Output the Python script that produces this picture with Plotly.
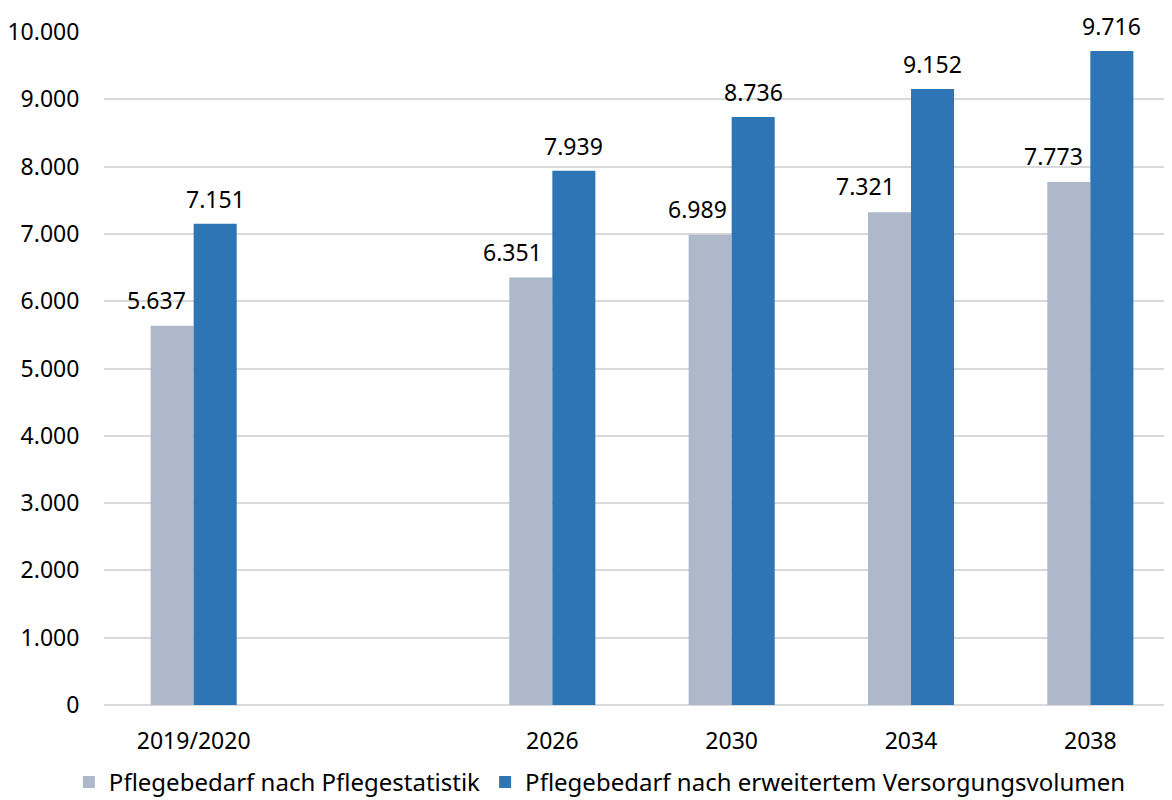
import plotly.graph_objects as go

categories = ["2019/2020", " ", "2026", "2030", "2034", "2038"]
pflegestatistik = [5637, None, 6351, 6989, 7321, 7773]
versorgungsvolumen = [7151, None, 7939, 8736, 9152, 9716]
series_names = ["Pflegebedarf nach Pflegestatistik",
                "Pflegebedarf nach erweitertem Versorgungsvolumen"]
y_ticks = [0, 1000, 2000, 3000, 4000, 5000, 6000, 7000, 8000, 9000, 10000]

GRAY = "#ADB9CA"
BLUE = "#2E75B6"
FONT = "Noto Sans"
FS = 23

# horizontal label offsets (pixels) for the gray labels, as placed in the reference
gray_dx = [-16, 0, -18, -13, -24, -15]

fig = go.Figure()
fig.add_trace(go.Bar(x=categories, y=pflegestatistik, name=series_names[0],
                     marker_color=GRAY, marker_line_width=0))
fig.add_trace(go.Bar(x=categories, y=versorgungsvolumen, name=series_names[1],
                     marker_color=BLUE, marker_line_width=0))

def fmt(v):
    return f"{v:,}".replace(",", ".")

annotations = []
for i, c in enumerate(categories):
    if pflegestatistik[i] is not None:
        annotations.append(dict(x=i, y=pflegestatistik[i], xref="x", yref="y",
                                text=fmt(pflegestatistik[i]), showarrow=False,
                                xshift=-21.5 + gray_dx[i], yshift=26,
                                font=dict(family=FONT, size=FS, color="#000000")))
    if versorgungsvolumen[i] is not None:
        annotations.append(dict(x=i, y=versorgungsvolumen[i], xref="x", yref="y",
                                text=fmt(versorgungsvolumen[i]), showarrow=False,
                                xshift=21.5, yshift=25,
                                font=dict(family=FONT, size=FS, color="#000000")))

fig.update_layout(
    width=1172, height=800,
    margin=dict(l=96, r=0, t=24, b=103, autoexpand=False),
    paper_bgcolor="white", plot_bgcolor="white",
    separators=",.",
    font=dict(family=FONT, size=FS, color="#000000"),
    barmode="group", bargap=0.52, bargroupgap=0,
    showlegend=True,
    legend=dict(orientation="h", xref="container", x=0.505, xanchor="center",
                yref="container", y=0.032, yanchor="middle",
                font=dict(family=FONT, size=24, color="#000000"),
                itemwidth=30, tracegroupgap=0),
    annotations=annotations,
    hovermode=False,
)
fig.update_xaxes(type="category", categoryorder="array", categoryarray=categories,
                 range=[-0.5, 5.5], showgrid=False, showline=False, zeroline=False,
                 ticks="outside", ticklen=15, tickcolor="rgba(0,0,0,0)",
                 tickfont=dict(family=FONT, size=FS, color="#000000"))
fig.update_yaxes(range=[0, 10000], tickvals=y_ticks, tickformat=",d",
                 showgrid=True, gridcolor="#D9D9D9", gridwidth=1.5,
                 zeroline=True, zerolinecolor="#D9D9D9", zerolinewidth=1.5,
                 showline=False,
                 ticks="outside", ticklen=19, tickcolor="rgba(0,0,0,0)",
                 tickfont=dict(family=FONT, size=FS, color="#000000"))

fig.write_html("out.html")
